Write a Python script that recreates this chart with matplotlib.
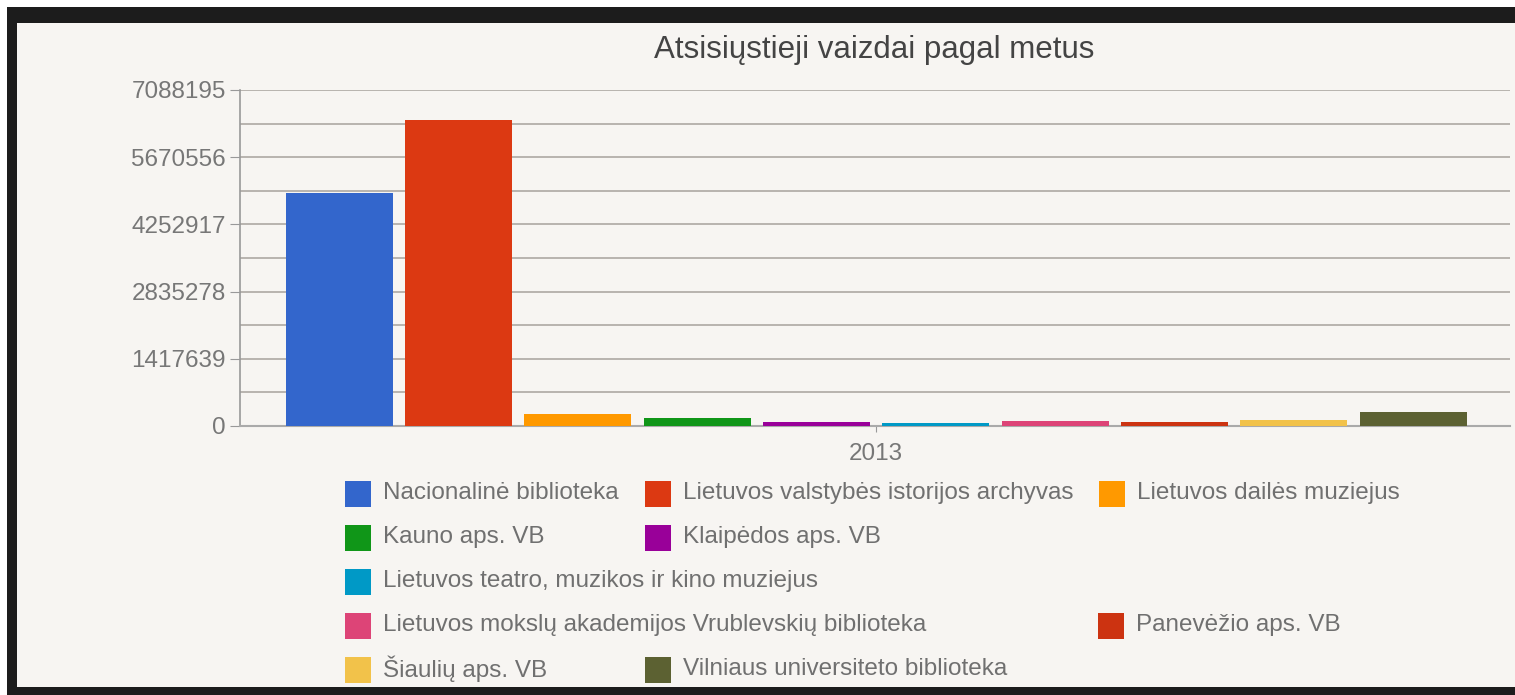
import matplotlib
matplotlib.use("Agg")
import matplotlib.pyplot as plt
from matplotlib.patches import Rectangle
import numpy as np

plt.rcParams['font.family'] = ['Liberation Sans', 'DejaVu Sans']

title = "Atsisiųstieji vaizdai pagal metus"
year_label = "2013"
series = [
    "Nacionalinė biblioteka",
    "Lietuvos valstybės istorijos archyvas",
    "Lietuvos dailės muziejus",
    "Kauno aps. VB",
    "Klaipėdos aps. VB",
    "Lietuvos teatro, muzikos ir kino muziejus",
    "Lietuvos mokslų akademijos Vrublevskių biblioteka",
    "Panevėžio aps. VB",
    "Šiaulių aps. VB",
    "Vilniaus universiteto biblioteka",
]
values = [4915000, 6455000, 253000, 169000, 74000, 63000, 116000, 74000, 137000, 295000]
colors = ["#3366cc", "#dc3912", "#ff9900", "#109618", "#990099",
          "#0099c6", "#dd4477", "#cc3311", "#f2c24a", "#5c6132"]
y_max = 7088195
y_ticks = [0, 1417639, 2835278, 4252917, 5670556, 7088195]

W, H = 1515, 695
fig = plt.figure(figsize=(W / 100, H / 100), dpi=100)
fig.patch.set_facecolor("white")


def fx(px):
    return px / W


def fy(py):
    return 1 - py / H


# frame: black border and light canvas
fig.add_artist(Rectangle((fx(7), fy(695)), fx(1515 - 7), 688 / H,
                         transform=fig.transFigure, facecolor="#1c1c1c",
                         edgecolor="none", zorder=-10))
fig.add_artist(Rectangle((fx(17), fy(687)), fx(1515 - 17), (687 - 23) / H,
                         transform=fig.transFigure, facecolor="#f7f5f2",
                         edgecolor="none", zorder=-9))

ax = fig.add_axes([fx(240), fy(426), fx(1510 - 240), (426 - 90) / H])
ax.set_facecolor("none")

n = len(values)
xs = np.arange(n) - (n - 1) / 2
ax.bar(xs, values, width=0.896, color=colors, zorder=3)

ax.set_xlim(-5.33, 5.31)
ax.set_ylim(0, y_max)
ax.set_yticks(y_ticks)
ax.set_yticklabels([str(v) for v in y_ticks])
ax.set_yticks(np.arange(0, y_max + 1, y_ticks[1] / 2), minor=True)
ax.tick_params(axis='y', which='minor', length=0)
ax.yaxis.grid(True, which='both', color="#b8b4af", linewidth=1.4)
ax.set_axisbelow(True)
ax.set_xticks([0])
ax.set_xticklabels([year_label])
ax.tick_params(axis='x', length=4, color="#999999", labelsize=17.5,
               labelcolor="#777777", pad=8)
ax.tick_params(axis='y', length=7, color="#999999", labelsize=17.5,
               labelcolor="#777777", pad=3)
for s in ["top", "right"]:
    ax.spines[s].set_visible(False)
ax.spines["left"].set_color("#999999")
ax.spines["bottom"].set_color("#aaaaaa")
ax.spines["left"].set_linewidth(1.2)
ax.spines["bottom"].set_linewidth(1.5)

fig.text(fx(874), fy(50), title, ha="center", va="center",
         fontsize=22.5, color="#444444")

# legend (manual layout)
legend_pos = [
    (345, 494), (645, 494), (1099, 494),
    (345, 538), (645, 538),
    (345, 582),
    (345, 626), (1098, 626),
    (345, 670), (645, 670),
]
sq = 26
for (px, py), name, c in zip(legend_pos, series, colors):
    fig.add_artist(Rectangle((fx(px), fy(py + sq / 2)), sq / W, sq / H,
                             transform=fig.transFigure, facecolor=c,
                             edgecolor="none"))
    fig.text(fx(px + 38), fy(py - 1), name, ha="left", va="center",
             fontsize=17.5, color="#707070")

fig.savefig("out.png", dpi=100, facecolor=fig.get_facecolor())
